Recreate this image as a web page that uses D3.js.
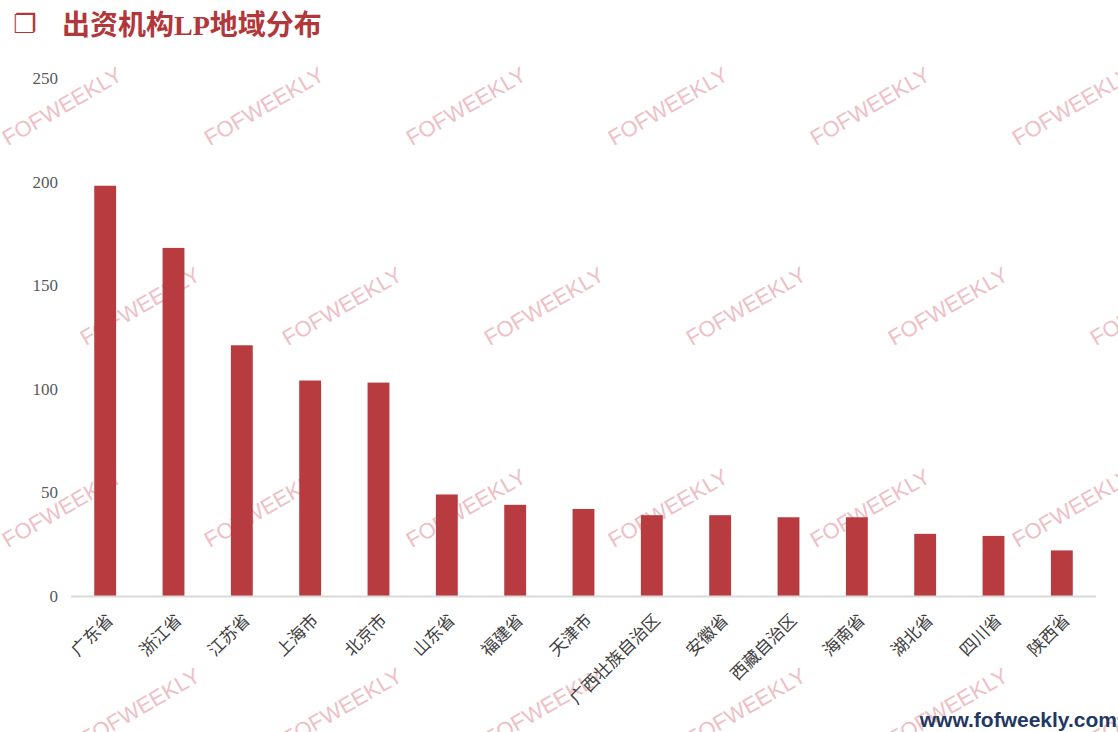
<!DOCTYPE html>
<html><head><meta charset="utf-8">
<script src="https://cdn.jsdelivr.net/npm/d3@7"></script>
<style>
html,body{margin:0;padding:0;background:#fff;}
svg{display:block;}
</style></head>
<body>
<script>
const categories = ["广东省","浙江省","江苏省","上海市","北京市","山东省","福建省","天津市","广西壮族自治区","安徽省","西藏自治区","海南省","湖北省","四川省","陕西省"];
const values = [198,168,121,104,103,49,44,42,39,39,38,38,30,29,22];
const yTicks = [0,50,100,150,200,250];
const titleText = "出资机构LP地域分布";
const footerText = "www.fofweekly.com";
const watermarkText = "FOFWEEKLY";

const W = 1118, H = 732;
const svg = d3.select("body").append("svg").attr("width", W).attr("height", H);
svg.append("rect").attr("width", W).attr("height", H).attr("fill", "#fff");

const red = "#B83B3F";

// watermarks
const wm = svg.append("g");
const rows = [106, 306, 508, 707];
rows.forEach((ry, ri) => {
  const off = ri % 2 === 0 ? 62 : 140;
  for (let cx = off; cx < W + 120; cx += 202) {
    wm.append("text")
      .attr("transform", `translate(${cx},${ry}) rotate(-30)`)
      .attr("text-anchor", "middle").attr("dy", "0.35em")
      .attr("font-family", "'Liberation Sans', Arial, sans-serif")
      .attr("font-size", 22)
      .attr("fill", "#EEC0C6")
      .text(watermarkText);
  }
});

// scales
const x = d3.scaleBand().domain(categories).range([71, 1096]).paddingInner(0.68).paddingOuter(0.34);
const y = d3.scaleLinear().domain([0, 250]).range([596, 78]);

// y axis
const yAxis = svg.append("g").attr("transform", "translate(58,0)")
  .call(d3.axisLeft(y).tickValues(yTicks).tickSize(0).tickPadding(0));
yAxis.select(".domain").remove();
yAxis.selectAll("text")
  .attr("font-family", "'Liberation Serif', 'Times New Roman', serif")
  .attr("font-size", 17).attr("fill", "#595959");

// bars
svg.append("g").selectAll("rect").data(values).join("rect")
  .attr("x", (d, i) => x(categories[i]))
  .attr("width", x.bandwidth())
  .attr("y", d => y(d))
  .attr("height", d => y(0) - y(d))
  .attr("fill", red);

// x axis
const xAxis = svg.append("g").attr("transform", `translate(0,${y(0)})`)
  .call(d3.axisBottom(x).tickSize(0).tickPadding(0));
xAxis.select(".domain").attr("stroke", "#D9D9D9").attr("stroke-width", 2)
  .attr("d", `M71,0.5H1096`);
xAxis.selectAll(".tick text")
  .attr("font-family", "'Noto Sans CJK SC', sans-serif")
  .attr("font-size", 17).attr("fill", "#404040")
  .attr("text-anchor", "end")
  .attr("transform", "translate(5,21) rotate(-45)")
  .attr("y", 0).attr("dy", "0.35em");

// title
svg.append("text").attr("x", 13).attr("y", 33)
  .attr("font-family", "'DejaVu Sans', sans-serif").attr("font-size", 26)
  .attr("font-weight", "bold")
  .attr("fill", "#B2373A").text("❐");
svg.append("text").attr("x", 62).attr("y", 35)
  .attr("font-family", "'Liberation Serif', 'Noto Sans CJK SC', serif")
  .attr("font-weight", "bold").attr("font-size", 28)
  .attr("fill", "#B2373A").text(titleText);

// footer
svg.append("text").attr("x", 1117).attr("y", 727).attr("text-anchor", "end")
  .attr("font-family", "'Liberation Sans', Arial, sans-serif")
  .attr("font-weight", "bold").attr("font-size", 21)
  .attr("fill", "#1F3864").text(footerText);
</script>
</body></html>
